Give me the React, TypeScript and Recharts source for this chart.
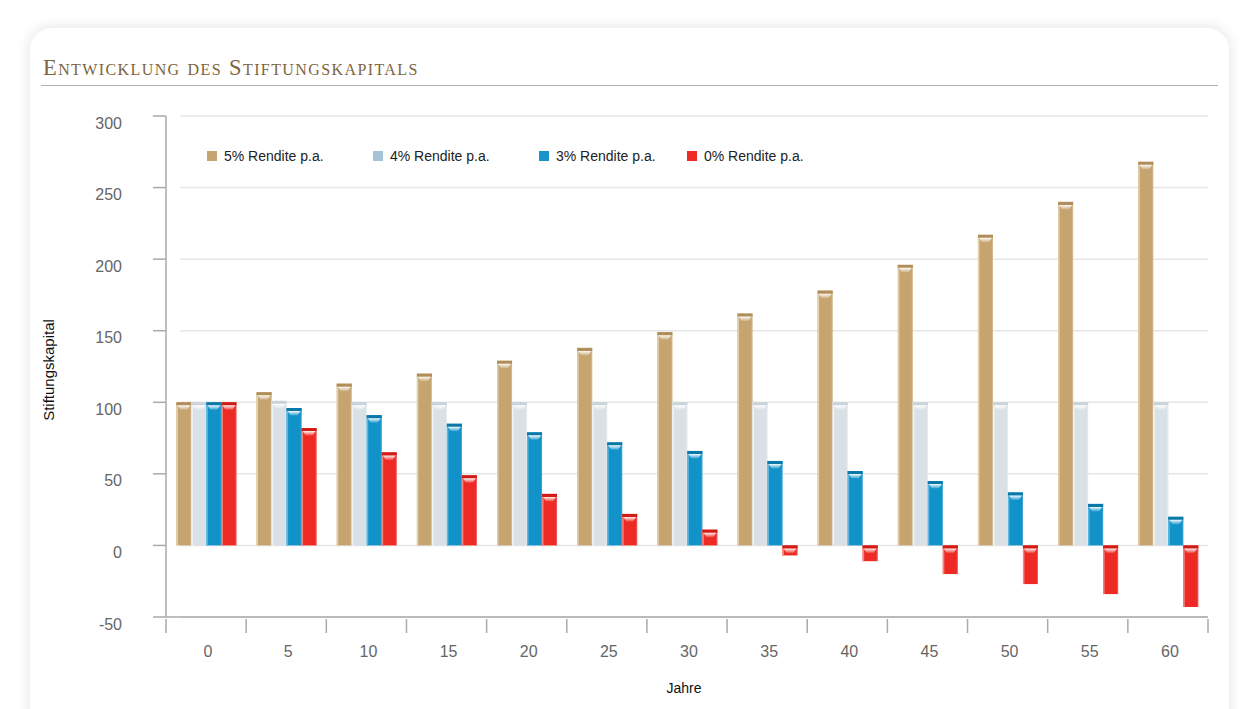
import React from "react";
import { Bar, BarChart, CartesianGrid, Label, Legend, XAxis, YAxis } from "recharts";

const years = [0, 5, 10, 15, 20, 25, 30, 35, 40, 45, 50, 55, 60];
const rendite5 = [100, 107, 113, 120, 129, 138, 149, 162, 178, 196, 217, 240, 268];
const rendite4 = [100, 101, 100, 100, 100, 100, 100, 100, 100, 100, 100, 100, 100];
const rendite3 = [100, 96, 91, 85, 79, 72, 66, 59, 52, 45, 37, 29, 20];
const rendite0 = [100, 82, 65, 49, 36, 22, 11, -7, -11, -20, -27, -34, -43];
const yTicks = [-50, 0, 50, 100, 150, 200, 250, 300];

const seriesNames = ["5% Rendite p.a.", "4% Rendite p.a.", "3% Rendite p.a.", "0% Rendite p.a."];

const data = years.map((j, i) => ({
  jahr: j,
  r5: rendite5[i],
  r4: rendite4[i],
  r3: rendite3[i],
  r0: rendite0[i],
}));

const W = 1250;
const H = 709;
const PLOT_LEFT = 166;
const PLOT_RIGHT = 1208;
const PLOT_TOP = 116;
const PLOT_BOTTOM = 617;
const BAND = (PLOT_RIGHT - PLOT_LEFT) / years.length;

const styles = [
  { key: "r5", fill: "#c5a46f", edge: "#e3cfab", cap: "#b08d59", legend: "#c5a46f" },
  { key: "r4", fill: "#d9e1e6", edge: "#f1f4f6", cap: "#c9d3d9", legend: "#a6c3d8" },
  { key: "r3", fill: "#1192c9", edge: "#5fb6de", cap: "#0b78a8", legend: "#1a93cc" },
  { key: "r0", fill: "#ee2a24", edge: "#f6847f", cap: "#d01c17", legend: "#ee2a24" },
];
const legendX = [207, 373, 539, 687];

const axisFont = "'Liberation Sans', Arial, sans-serif";

const Bar3D = (props: any) => {
  let { x, y, width, height } = props;
  const { fill, edge, cap } = props;
  if (height < 0) {
    y += height;
    height = -height;
  }
  if (!height || height < 1) return null;
  const capH = Math.min(3, height);
  return (
    <g>
      <rect x={x} y={y} width={width} height={height} fill={fill} />
      <rect x={x} y={y} width={1.5} height={height} fill={edge} />
      <rect x={x + width - 1} y={y} width={1} height={height} fill={edge} opacity={0.5} />
      <rect x={x} y={y} width={width} height={capH} fill={cap} />
      {height > 8 && (
        <polygon
          points={`${x + 1},${y + 3} ${x + width - 1},${y + 3} ${x + width - 4},${y + 7.5} ${x + 4},${y + 7.5}`}
          fill="url(#hl)"
        />
      )}
    </g>
  );
};

const YTick = (props: any) => {
  const { x, y, payload } = props;
  return (
    <text x={x} y={y + 7} dy="0.35em" textAnchor="end" fill="#666" fontSize={16} fontFamily={axisFont}>
      {payload.value}
    </text>
  );
};

const XTick = (props: any) => {
  const { x, payload, index } = props;
  const last = index === years.length - 1;
  return (
    <g>
      <line x1={x - BAND / 2} x2={x - BAND / 2} y1={619} y2={633} stroke="#aaa" strokeWidth={1.5} />
      {last && <line x1={x + BAND / 2} x2={x + BAND / 2} y1={619} y2={633} stroke="#aaa" strokeWidth={1.5} />}
      <text x={x + 2} y={651} dy="0.35em" textAnchor="middle" fill="#666" fontSize={16} fontFamily={axisFont}>
        {payload.value}
      </text>
    </g>
  );
};

const GridLine = (props: any) => {
  const { x1, x2, y1, y2 } = props;
  return <line x1={x1 + 14} x2={x2} y1={y1} y2={y2} stroke="#e6e6e6" strokeWidth={1.5} />;
};

const CustomLegend = () => (
  <div style={{ position: "relative", width: W, height: 20 }}>
    {seriesNames.map((name, i) => (
      <div
        key={name}
        style={{
          position: "absolute",
          left: legendX[i],
          top: 0,
          display: "flex",
          alignItems: "center",
          fontFamily: axisFont,
          fontSize: 14,
          color: "#222",
          whiteSpace: "nowrap",
        }}
      >
        <span style={{ display: "inline-block", width: 10, height: 10, background: styles[i].legend, marginRight: 7 }} />
        {name}
      </div>
    ))}
  </div>
);

export default function App() {
  return (
    <div style={{ position: "absolute", left: 0, top: 0, width: W, height: H, background: "#fff", overflow: "hidden" }}>
      <div
        style={{
          position: "absolute",
          left: 30,
          top: 28,
          width: 1199,
          height: 720,
          borderRadius: 22,
          background: "#fff",
          boxShadow: "0 0 10px 5px rgba(0,0,0,0.06)",
        }}
      />
      <div
        style={{
          position: "absolute",
          left: 43,
          top: 55,
          fontFamily: "'Liberation Serif', 'DejaVu Serif', serif",
          fontVariant: "small-caps",
          fontSize: 22.5,
          letterSpacing: 1.4,
          color: "#7d6540",
          whiteSpace: "nowrap",
        }}
      >
        Entwicklung des Stiftungskapitals
      </div>
      <div style={{ position: "absolute", left: 41, top: 85, width: 1177, height: 1, background: "#b5b0aa" }} />
      <div style={{ position: "absolute", left: 0, top: 0 }}>
        <BarChart
          width={W}
          height={H}
          data={data}
          margin={{ top: PLOT_TOP, right: W - PLOT_RIGHT, left: PLOT_LEFT - 100, bottom: H - PLOT_BOTTOM - 50 }}
          barCategoryGap="13%"
          barGap={0}
        >
          <defs>
            <linearGradient id="hl" x1="0" y1="0" x2="0" y2="1">
              <stop offset="0%" stopColor="#ffffff" stopOpacity={0.95} />
              <stop offset="100%" stopColor="#ffffff" stopOpacity={0.15} />
            </linearGradient>
          </defs>
          <CartesianGrid vertical={false} horizontal={GridLine} />
          <XAxis
            dataKey="jahr"
            height={50}
            axisLine={{ stroke: "#aaa", strokeWidth: 1.5 }}
            tickLine={false}
            tick={XTick}
            interval={0}
          >
            <Label
              content={() => (
                <text x={684} y={688} dy="0.35em" textAnchor="middle" fontSize={14} fontFamily={axisFont} fill="#111">
                  Jahre
                </text>
              )}
            />
          </XAxis>
          <YAxis
            width={100}
            domain={[-50, 300]}
            ticks={yTicks}
            interval={0}
            axisLine={{ stroke: "#aaa", strokeWidth: 1.5 }}
            tickLine={{ stroke: "#aaa", strokeWidth: 1.5 }}
            tickSize={13}
            tickMargin={31}
            tick={YTick}
          >
            <Label
              content={() => (
                <text
                  x={49}
                  y={370}
                  dy="0.35em"
                  textAnchor="middle"
                  fontSize={15}
                  fontFamily={axisFont}
                  fill="#111"
                  transform="rotate(-90 49 370)"
                >
                  Stiftungskapital
                </text>
              )}
            />
          </YAxis>
          <Legend
            verticalAlign="middle"
            align="center"
            content={CustomLegend}
            wrapperStyle={{ position: "absolute", left: 0, top: 148, width: W }}
          />
          {styles.map((s, i) => (
            <Bar
              key={s.key}
              dataKey={s.key}
              name={seriesNames[i]}
              fill={s.fill}
              isAnimationActive={false}
              shape={(p: any) => <Bar3D {...p} fill={s.fill} edge={s.edge} cap={s.cap} />}
            />
          ))}
        </BarChart>
      </div>
    </div>
  );
}
